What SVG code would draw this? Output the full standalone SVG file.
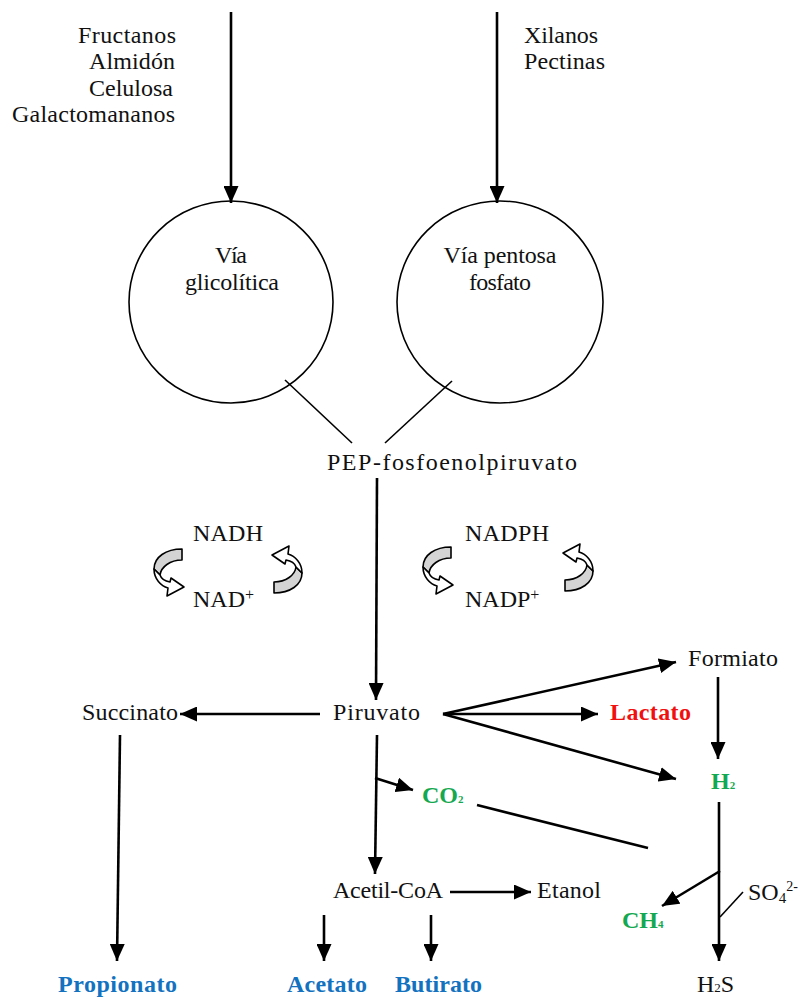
<svg xmlns="http://www.w3.org/2000/svg" width="798" height="997" viewBox="0 0 798 997">
<style>
text{font-family:"Liberation Serif","Times New Roman",serif;font-size:24px;fill:#111}
.b{font-weight:bold}
.blue{fill:#1372C0}
.green{fill:#14A850}
.red{fill:#F01010}
.m{text-anchor:middle}
.e{text-anchor:end}
.sub{font-size:12px}
.ln{stroke:#000;stroke-width:2.6;fill:none}
.thin{stroke:#000;stroke-width:1.6;fill:none}
.arr{marker-end:url(#ah)}
.gray{fill:#d4d4d4;stroke:#000;stroke-width:1.6;stroke-linejoin:round}
.wh{fill:#fff;stroke:#000;stroke-width:1.6;stroke-linejoin:round}
</style>
<defs>
<marker id="ah" markerUnits="userSpaceOnUse" markerWidth="17" markerHeight="15" refX="17" refY="7.5" orient="auto">
<path d="M0,0 L17,7.5 L0,15 Z" fill="#000"/>
</marker>
<g id="curl">
<path class="gray" d="M181,549 C165,549 153,557 153,569 L159,575 C160,567 169,560 181,560 Z"/>
<path class="wh" d="M153,569 C153,579 160,586 167,588 L166,596 L183,587 L170,578 L169,582 C163,581 160,578 159,575 Z"/>
</g>
</defs>

<g id="sources">
<text class="e" x="176" y="43" textLength="98">Fructanos</text>
<text class="e" x="175" y="69" textLength="86">Almidón</text>
<text class="e" x="173" y="96" textLength="84">Celulosa</text>
<text class="e" x="175" y="122" textLength="163">Galactomananos</text>
<text x="524" y="43" textLength="74">Xilanos</text>
<text x="524" y="69" textLength="81">Pectinas</text>
</g>

<g id="via-glicolitica">
<ellipse cx="231" cy="302" rx="102" ry="101" fill="#fff" stroke="#000" stroke-width="1.6"/>
<text class="m" x="231" y="263" textLength="32">Vía</text>
<text class="m" x="232" y="290" textLength="94">glicolítica</text>
</g>

<g id="via-pentosa">
<ellipse cx="500" cy="302" rx="103" ry="101" fill="#fff" stroke="#000" stroke-width="1.6"/>
<text class="m" x="500" y="263" textLength="113">Vía pentosa</text>
<text class="m" x="500" y="290" textLength="62">fosfato</text>
</g>

<g id="pep"><text x="327" y="470" textLength="250">PEP-fosfoenolpiruvato</text></g>

<g id="nad">
<text x="193" y="541" textLength="70">NADH</text>
<text x="193" y="607">NAD<tspan font-size="16" dy="-7">+</tspan></text>
<use href="#curl" transform="translate(1,0)"/>
<use href="#curl" transform="translate(455,1142) rotate(180)"/>
</g>

<g id="nadp">
<text x="465" y="541" textLength="84">NADPH</text>
<text x="465" y="607">NADP<tspan font-size="16" dy="-7">+</tspan></text>
<use href="#curl" transform="translate(270,-2)"/>
<use href="#curl" transform="translate(746,1140) rotate(180)"/>
</g>

<g id="piruvato"><text x="333" y="720" textLength="87">Piruvato</text></g>
<g id="succinato"><text x="82" y="720" textLength="96">Succinato</text></g>
<g id="formiato"><text x="688" y="666" textLength="90">Formiato</text></g>
<g id="lactato"><text class="b red" x="610" y="720" textLength="81">Lactato</text></g>
<g id="h2"><text class="b green" x="711" y="789">H<tspan font-size="11">2</tspan></text></g>
<g id="co2"><text class="b green" x="422" y="803">CO<tspan font-size="11">2</tspan></text></g>
<g id="acetilcoa"><text x="333" y="898" textLength="110">Acetil-CoA</text></g>
<g id="etanol"><text x="537" y="898" textLength="64">Etanol</text></g>
<g id="ch4"><text class="b green" x="622" y="928">CH<tspan font-size="11">4</tspan></text></g>
<g id="so4"><text x="748" y="900">SO<tspan font-size="15" dy="3">4</tspan><tspan font-size="14" dy="-12">2-</tspan></text></g>
<g id="h2s"><text x="697" y="992">H<tspan font-size="13">2</tspan>S</text></g>
<g id="propionato"><text class="b blue" x="58" y="992" textLength="119">Propionato</text></g>
<g id="acetato"><text class="b blue" x="287" y="992" textLength="80">Acetato</text></g>
<g id="butirato"><text class="b blue" x="395" y="992" textLength="87">Butirato</text></g>

<g id="connectors">
<line class="ln arr" x1="231" y1="12" x2="231" y2="203"/>
<line class="ln arr" x1="497" y1="12" x2="497" y2="203"/>
<line class="thin" x1="285" y1="380" x2="352" y2="443"/>
<line class="thin" x1="452" y1="381" x2="385" y2="443"/>
<line class="ln arr" x1="377" y1="478" x2="376" y2="700"/>
<line class="ln arr" x1="320" y1="714" x2="180" y2="714"/>
<line class="ln arr" x1="443" y1="714" x2="676" y2="662"/>
<line class="ln arr" x1="443" y1="714" x2="598" y2="714"/>
<line class="ln arr" x1="443" y1="714" x2="676" y2="779"/>
<line class="ln arr" x1="718" y1="677" x2="718" y2="759"/>
<line class="ln arr" x1="719" y1="802" x2="719" y2="961"/>
<line class="ln arr" x1="720" y1="871" x2="662" y2="906"/>
<line class="thin" x1="743" y1="892" x2="720" y2="917"/>
<line class="ln arr" x1="375" y1="778" x2="413" y2="790"/>
<line class="ln" x1="477" y1="805" x2="648" y2="848"/>
<line class="ln arr" x1="377" y1="735" x2="375" y2="874"/>
<line class="ln arr" x1="450" y1="892" x2="531" y2="892"/>
<line class="ln arr" x1="120" y1="735" x2="117" y2="961"/>
<line class="ln arr" x1="324" y1="915" x2="324" y2="961"/>
<line class="ln arr" x1="431" y1="915" x2="431" y2="961"/>
</g>
</svg>
